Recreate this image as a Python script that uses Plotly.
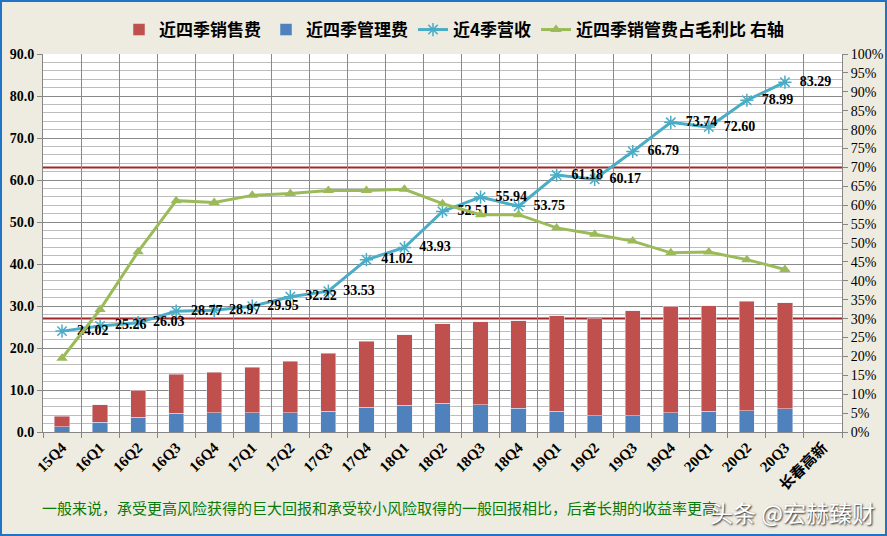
import plotly.graph_objects as go

categories = ["15Q4", "16Q1", "16Q2", "16Q3", "16Q4", "17Q1", "17Q2", "17Q3", "17Q4", "18Q1",
              "18Q2", "18Q3", "18Q4", "19Q1", "19Q2", "19Q3", "19Q4", "20Q1", "20Q2", "20Q3"]
extra_category = "长春高新"

mgmt_fee = [1.3, 2.3, 3.5, 4.5, 4.6, 4.6, 4.6, 5.0, 5.9, 6.4,
            6.9, 6.5, 5.6, 5.0, 3.9, 3.9, 4.6, 5.0, 5.1, 5.5]
sales_fee = [2.4, 4.2, 6.4, 9.2, 9.6, 10.8, 12.2, 13.7, 15.7, 16.8,
             18.9, 19.8, 20.9, 22.7, 23.1, 25.0, 25.3, 25.1, 26.0, 25.3]
revenue = [24.02, 25.26, 26.03, 28.77, 28.97, 29.95, 32.22, 33.53, 41.02, 43.93,
           52.51, 55.94, 53.75, 61.18, 60.17, 66.79, 73.74, 72.60, 78.99, 83.29]
ratio = [0.195, 0.324, 0.477, 0.612, 0.607, 0.626, 0.631, 0.639, 0.639, 0.642,
         0.604, 0.575, 0.575, 0.540, 0.523, 0.505, 0.474, 0.476, 0.456, 0.430]
ref_lines = [0.30, 0.70]

note_text = "一般来说，承受更高风险获得的巨大回报和承受较小风险取得的一般回报相比，后者长期的收益率更高"
watermark = "头条 @宏赫臻财"

serif = "Times New Roman, Liberation Serif, Noto Sans CJK SC"
cjk = "Noto Sans CJK SC, Liberation Serif"

fig = go.Figure()
fig.add_trace(go.Bar(x=categories, y=mgmt_fee, name="近四季管理费", marker_color="#4F81BD",
                     width=0.4, legendrank=2))
fig.add_trace(go.Bar(x=categories, y=sales_fee, name="近四季销售费", marker_color="#C0504D",
                     width=0.4, legendrank=1))
fig.add_trace(go.Scatter(x=categories, y=revenue, name="近4季营收", mode="lines+markers+text",
                         line=dict(color="#4BACC6", width=3),
                         marker=dict(symbol="asterisk-open", size=11, line=dict(color="#4BACC6", width=1.5)),
                         text=["  " + f"{v:.2f}" for v in revenue], textposition="middle right",
                         textfont=dict(family=serif, size=14, color="black", weight="bold"),
                         cliponaxis=False, legendrank=3))
fig.add_trace(go.Scatter(x=categories, y=ratio, name="近四季销管费占毛利比 右轴", mode="lines+markers",
                         yaxis="y2", line=dict(color="#9BBB59", width=3),
                         marker=dict(symbol="triangle-up", size=10, color="#9BBB59"),
                         legendrank=4))

for v in ref_lines:
    fig.add_shape(type="line", xref="paper", x0=0, x1=1, yref="y2", y0=v, y1=v,
                  line=dict(color="#A0282A", width=2), layer="between")

L, R, T, B = 43, 45, 54, 104
W, H = 887, 536
pw, ph = W - L - R, H - T - B


def px(x):
    return (x - L) / pw


def py(y):
    return (H - B - y) / ph


fig.add_shape(type="rect", xref="paper", yref="paper", x0=px(1), x1=px(886), y0=py(535), y1=py(1),
              line=dict(color="#1F74C6", width=2), fillcolor="rgba(0,0,0,0)", layer="above")

fig.add_annotation(xref="paper", yref="paper", x=px(40), y=py(508), xanchor="left", yanchor="middle",
                   text=note_text, showarrow=False,
                   font=dict(family=cjk, size=15, color="#0A7A0A"))
fig.add_annotation(xref="paper", yref="paper", x=px(877), y=py(512), xanchor="right", yanchor="middle",
                   text=watermark, showarrow=False,
                   font=dict(family=cjk, size=23, color="white", shadow="1px 1px 2px #222"))

fig.update_layout(
    width=W, height=H,
    margin=dict(l=L, r=R, t=T, b=B, pad=0),
    paper_bgcolor="#EEECE1", plot_bgcolor="white",
    barmode="stack", bargap=0.6,
    showlegend=True,
    legend=dict(orientation="h", x=px(454), y=py(30), xanchor="center", yanchor="middle",
                traceorder="normal",
                font=dict(family=cjk, size=17, color="black", weight="bold"),
                bgcolor="rgba(0,0,0,0)", itemwidth=30, tracegroupgap=0),
    xaxis=dict(type="category", categoryorder="array", categoryarray=categories + [extra_category],
               range=[-0.5, 20.5], tickson="boundaries", ticks="outside", ticklen=5,
               tickcolor="#868686", showgrid=True, gridcolor="#8A8A8A", gridwidth=1,
               showline=True, linecolor="#868686", tickangle=-45, automargin=False,
               tickfont=dict(family=serif, size=15, color="black", weight="bold")),
    yaxis=dict(range=[0, 90], dtick=10, tickformat=".1f", ticks="outside", ticklen=5,
               tickcolor="#868686", showline=True, linecolor="#868686",
               showgrid=True, gridcolor="#8A8A8A", gridwidth=1, zeroline=False,
               minor=dict(dtick=2, showgrid=True, gridcolor="#BDBDBD", gridwidth=1),
               automargin=False,
               tickfont=dict(family=serif, size=14, color="black", weight="bold")),
    yaxis2=dict(range=[0, 1], dtick=0.05, tickformat=".0%", overlaying="y", side="right",
                ticks="outside", ticklen=5, tickcolor="#868686", showline=True, linecolor="#868686",
                showgrid=False, zeroline=False, automargin=False,
                tickfont=dict(family=serif, size=14, color="black")),
)

fig.write_html("out.html", config={"displayModeBar": False},
               post_script="document.body.style.margin='0px';document.body.style.overflow='hidden';")
